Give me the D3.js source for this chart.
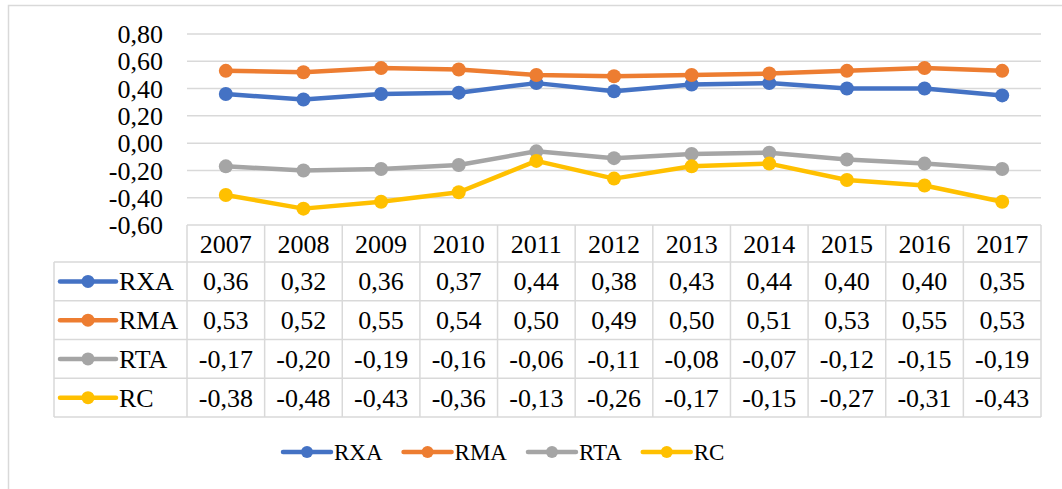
<!DOCTYPE html>
<html>
<head>
<meta charset="utf-8">
<script src="https://cdn.jsdelivr.net/npm/d3@7"></script>
<style>
  body { margin: 0; background: #fff; }
</style>
</head>
<body>
<div id="chart"></div>
<script>
const years = ["2007", "2008", "2009", "2010", "2011", "2012", "2013", "2014", "2015", "2016", "2017"];
const seriesNames = ["RXA", "RMA", "RTA", "RC"];
const rxa = [0.36, 0.32, 0.36, 0.37, 0.44, 0.38, 0.43, 0.44, 0.40, 0.40, 0.35];
const rma = [0.53, 0.52, 0.55, 0.54, 0.50, 0.49, 0.50, 0.51, 0.53, 0.55, 0.53];
const rta = [-0.17, -0.20, -0.19, -0.16, -0.06, -0.11, -0.08, -0.07, -0.12, -0.15, -0.19];
const rc = [-0.38, -0.48, -0.43, -0.36, -0.13, -0.26, -0.17, -0.15, -0.27, -0.31, -0.43];
const yTicks = [-0.6, -0.4, -0.2, 0, 0.2, 0.4, 0.6, 0.8];
const colors = ["#4472C4", "#ED7D31", "#A5A5A5", "#FFC000"];

const series = [rxa, rma, rta, rc].map((values, i) => ({
  name: seriesNames[i],
  color: colors[i],
  values: values
}));

const width = 1062, height = 489;
const gridColor = "#D9D9D9";
const serif = "'Liberation Serif'";
const fontSize = "26px";

// comma decimal, plain hyphen for minus
const locale = d3.formatLocale({ decimal: ",", thousands: ".", grouping: [3], currency: ["", ""], minus: "-" });
const fmt = locale.format(".2f");

const svg = d3.select("#chart")
  .append("svg")
  .attr("width", width)
  .attr("height", height);

// outer chart border
svg.append("rect")
  .attr("x", 8.5).attr("y", 5.5)
  .attr("width", 1080).attr("height", 500)
  .attr("fill", "#fff")
  .attr("stroke", gridColor)
  .attr("stroke-width", 1.5);

const x = d3.scaleBand().domain(years).range([187, 1041]);
const y = d3.scaleLinear().domain([-0.6, 0.8]).range([225, 34]);
const row = d3.scaleBand().domain(seriesNames).range([262, 417]);

// gridlines
svg.append("g")
  .selectAll("line")
  .data(yTicks.filter(t => t > -0.6))
  .enter()
  .append("line")
  .attr("x1", 187).attr("x2", 1041)
  .attr("y1", d => y(d)).attr("y2", d => y(d))
  .attr("stroke", gridColor)
  .attr("stroke-width", 1.5);

// y tick labels
svg.append("g")
  .selectAll("text")
  .data(yTicks)
  .enter()
  .append("text")
  .attr("x", 163)
  .attr("y", d => y(d))
  .attr("dy", "0.35em")
  .attr("text-anchor", "end")
  .style("font-family", serif)
  .style("font-size", fontSize)
  .text(d => fmt(d));

// lines and markers
const line = d3.line()
  .x((d, i) => x(years[i]) + x.bandwidth() / 2)
  .y(d => y(d));

const lines = svg.append("g");
series.forEach(s => {
  lines.append("path")
    .attr("d", line(s.values))
    .attr("fill", "none")
    .attr("stroke", s.color)
    .attr("stroke-width", 4.5)
    .attr("stroke-linejoin", "round");

  lines.selectAll(null)
    .data(s.values)
    .enter()
    .append("circle")
    .attr("cx", (d, i) => x(years[i]) + x.bandwidth() / 2)
    .attr("cy", d => y(d))
    .attr("r", 7)
    .attr("fill", s.color);
});

// data table
const table = svg.append("g");
const tTop = 225, tBottom = 417, tLeft = 54;

// horizontal borders
table.append("line")
  .attr("x1", 187).attr("x2", 1041).attr("y1", tTop).attr("y2", tTop)
  .attr("stroke", gridColor).attr("stroke-width", 1.5);
seriesNames.forEach(n => {
  table.append("line")
    .attr("x1", tLeft).attr("x2", 1041)
    .attr("y1", row(n)).attr("y2", row(n))
    .attr("stroke", gridColor).attr("stroke-width", 1.5);
});
table.append("line")
  .attr("x1", tLeft).attr("x2", 1041).attr("y1", tBottom).attr("y2", tBottom)
  .attr("stroke", gridColor).attr("stroke-width", 1.5);

// vertical borders
table.append("line")
  .attr("x1", tLeft).attr("x2", tLeft).attr("y1", row.range()[0]).attr("y2", tBottom)
  .attr("stroke", gridColor).attr("stroke-width", 1.5);
years.concat(["end"]).forEach((yr, i) => {
  const xx = i < years.length ? x(yr) : x.range()[1];
  table.append("line")
    .attr("x1", xx).attr("x2", xx).attr("y1", tTop).attr("y2", tBottom)
    .attr("stroke", gridColor).attr("stroke-width", 1.5);
});

// header years
table.selectAll("text.year")
  .data(years)
  .enter()
  .append("text")
  .attr("class", "year")
  .attr("x", d => x(d) + x.bandwidth() / 2)
  .attr("y", (tTop + row.range()[0]) / 2)
  .attr("dy", "0.35em")
  .attr("text-anchor", "middle")
  .style("font-family", serif)
  .style("font-size", fontSize)
  .text(d => d);

// rows
series.forEach(s => {
  const cy = row(s.name) + row.bandwidth() / 2;
  table.append("line")
    .attr("x1", 60).attr("x2", 116).attr("y1", cy).attr("y2", cy)
    .attr("stroke", s.color).attr("stroke-width", 4.5).attr("stroke-linecap", "round");
  table.append("circle")
    .attr("cx", 88).attr("cy", cy).attr("r", 6.5).attr("fill", s.color);
  table.append("text")
    .attr("x", 119).attr("y", cy).attr("dy", "0.35em")
    .style("font-family", serif)
    .style("font-size", fontSize)
    .text(s.name);

  table.selectAll(null)
    .data(s.values)
    .enter()
    .append("text")
    .attr("x", (d, i) => x(years[i]) + x.bandwidth() / 2)
    .attr("y", cy)
    .attr("dy", "0.35em")
    .attr("text-anchor", "middle")
    .style("font-family", serif)
    .style("font-size", fontSize)
    .text(d => fmt(d));
});

// legend
const legend = svg.append("g").attr("transform", "translate(283, 452)");
let lx = 0;
series.forEach(s => {
  const item = legend.append("g").attr("transform", `translate(${lx}, 0)`);
  item.append("line")
    .attr("x1", 0).attr("x2", 48).attr("y1", 0).attr("y2", 0)
    .attr("stroke", s.color).attr("stroke-width", 4.5).attr("stroke-linecap", "round");
  item.append("circle")
    .attr("cx", 24).attr("cy", 0).attr("r", 6).attr("fill", s.color);
  const t = item.append("text")
    .attr("x", 51).attr("y", 0).attr("dy", "0.35em")
    .style("font-family", serif)
    .style("font-size", "23px")
    .text(s.name);
  lx += 51 + t.node().getComputedTextLength() + 21;
});
</script>
</body>
</html>
